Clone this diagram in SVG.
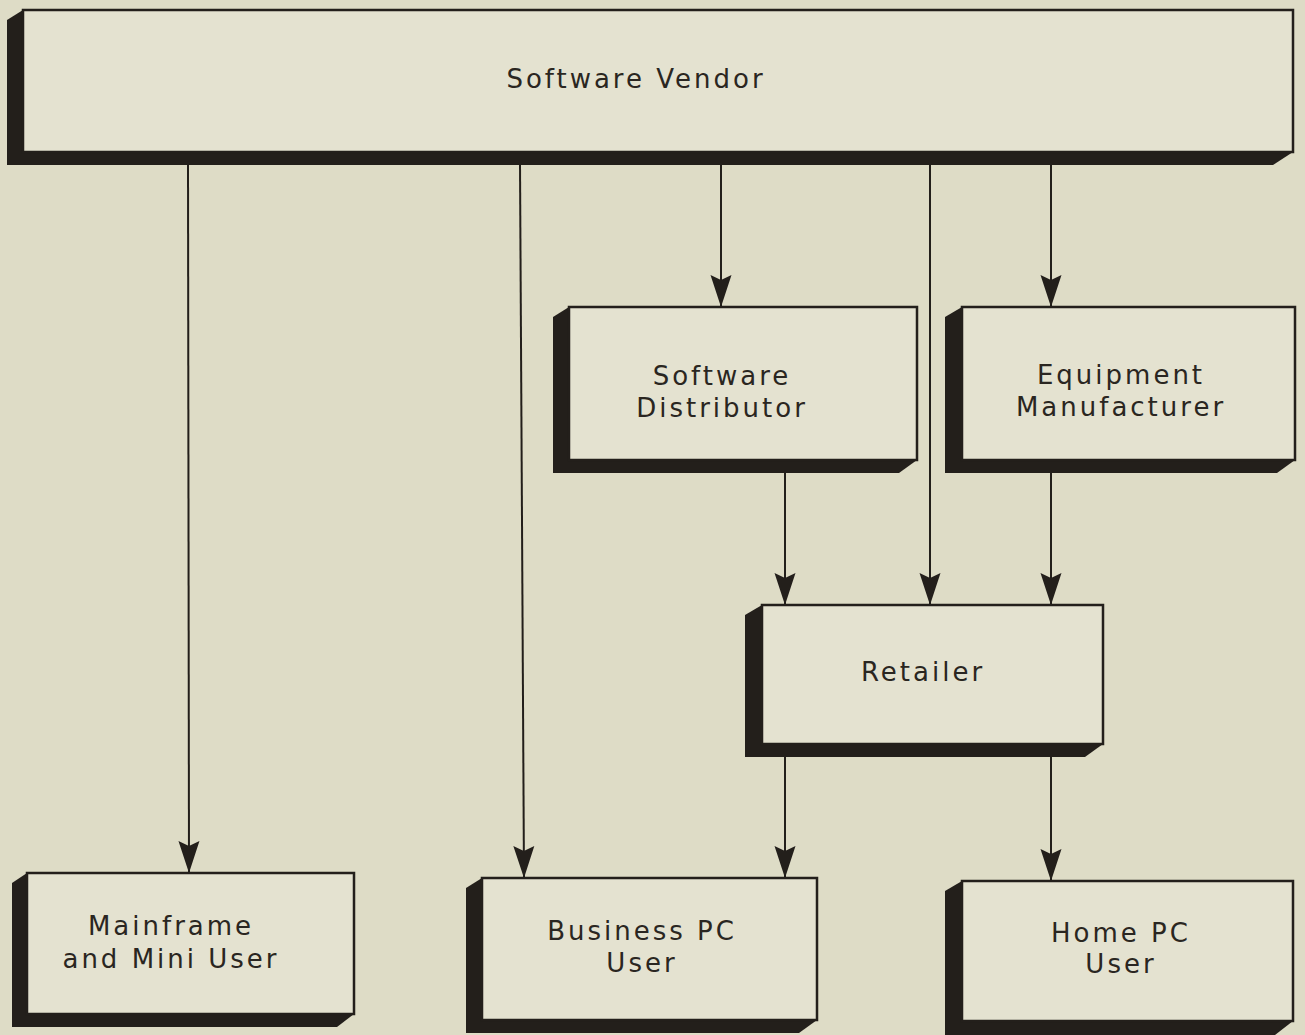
<svg xmlns="http://www.w3.org/2000/svg" width="1305" height="1035" viewBox="0 0 1305 1035">
  <defs>
    <style>
      .bg { fill: #dedcc6; }
      .shade { fill: #231f1b; }
      .face { fill: #e4e2d0; stroke: #231f1b; stroke-width: 2.5; }
      .label { font-family: "DejaVu Sans", "Liberation Sans", sans-serif; font-size: 26px; letter-spacing: 3px; fill: #2a2621; text-anchor: middle; }
      .flow { stroke: #231f1b; stroke-width: 2; fill: none; marker-end: url(#dart); }
    </style>
    <!-- notched dart arrowhead, tip at the line end -->
    <marker id="dart" markerUnits="userSpaceOnUse" viewBox="-34 -12 36 24" markerWidth="36" markerHeight="24" refX="0" refY="0" orient="auto">
      <path d="M0,0 L-32,-10.5 L-27,0 L-32,10.5 Z" fill="#231f1b"/>
    </marker>
  </defs>

  <rect class="bg" x="0" y="0" width="1305" height="1035"/>

  <!-- connectors -->
  <g id="connectors">
    <line class="flow" x1="188" y1="164" x2="189" y2="873"/>
    <line class="flow" x1="520" y1="164" x2="524" y2="878"/>
    <line class="flow" x1="721" y1="164" x2="721" y2="307"/>
    <line class="flow" x1="930" y1="164" x2="930" y2="605"/>
    <line class="flow" x1="1051" y1="164" x2="1051" y2="307"/>
    <line class="flow" x1="785" y1="473" x2="785" y2="605"/>
    <line class="flow" x1="1051" y1="473" x2="1051" y2="605"/>
    <line class="flow" x1="785" y1="757" x2="785" y2="878"/>
    <line class="flow" x1="1051" y1="757" x2="1051" y2="881"/>
  </g>

  <!-- Software Vendor -->
  <g id="software-vendor">
    <polygon class="shade" points="23,10 7,20 7,165 1273,165 1293,152"/>
    <rect class="face" x="23" y="10" width="1270" height="142"/>
    <text class="label" x="636" y="88">Software Vendor</text>
  </g>

  <!-- Software Distributor -->
  <g id="software-distributor">
    <polygon class="shade" points="569,307 553,317 553,473 899,473 917,460"/>
    <rect class="face" x="569" y="307" width="348" height="153"/>
    <text class="label" x="722" y="385">Software</text>
    <text class="label" x="722" y="417">Distributor</text>
  </g>

  <!-- Equipment Manufacturer -->
  <g id="equipment-manufacturer">
    <polygon class="shade" points="962,307 945,317 945,473 1277,473 1295,460"/>
    <rect class="face" x="962" y="307" width="333" height="153"/>
    <text class="label" x="1121" y="384">Equipment</text>
    <text class="label" x="1121" y="416">Manufacturer</text>
  </g>

  <!-- Retailer -->
  <g id="retailer">
    <polygon class="shade" points="762,605 745,615 745,757 1085,757 1103,744"/>
    <rect class="face" x="762" y="605" width="341" height="139"/>
    <text class="label" x="923" y="681">Retailer</text>
  </g>

  <!-- Mainframe and Mini User -->
  <g id="mainframe-user">
    <polygon class="shade" points="27,873 12,883 12,1027 337,1027 354,1014"/>
    <rect class="face" x="27" y="873" width="327" height="141"/>
    <text class="label" x="171" y="935">Mainframe</text>
    <text class="label" x="171" y="968">and Mini User</text>
  </g>

  <!-- Business PC User -->
  <g id="business-pc-user">
    <polygon class="shade" points="482,878 466,888 466,1033 799,1033 817,1020"/>
    <rect class="face" x="482" y="878" width="335" height="142"/>
    <text class="label" x="642" y="940">Business PC</text>
    <text class="label" x="642" y="972">User</text>
  </g>

  <!-- Home PC User -->
  <g id="home-pc-user">
    <polygon class="shade" points="962,881 945,891 945,1035 1275,1035 1293,1021"/>
    <rect class="face" x="962" y="881" width="331" height="140"/>
    <text class="label" x="1121" y="942">Home PC</text>
    <text class="label" x="1121" y="973">User</text>
  </g>
</svg>
